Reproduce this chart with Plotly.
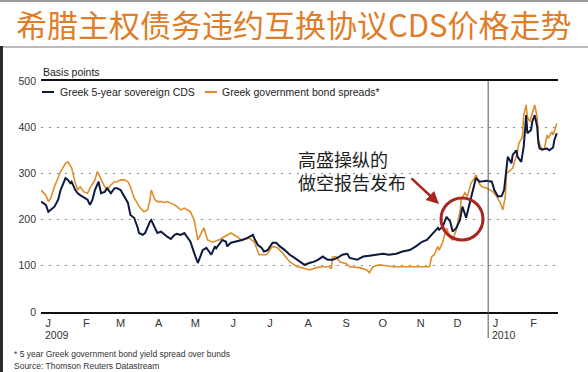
import plotly.graph_objects as go
import pandas as pd

# ---------------- data ----------------
cds_dates = [
    "2009-01-01", "2009-01-03", "2009-01-05", "2009-01-07", "2009-01-09", "2009-01-12", "2009-01-15",
    "2009-01-17", "2009-01-21", "2009-01-23", "2009-01-25", "2009-01-26", "2009-01-29", "2009-01-31",
    "2009-02-02", "2009-02-05", "2009-02-08", "2009-02-10", "2009-02-12", "2009-02-14", "2009-02-17",
    "2009-02-19", "2009-02-22", "2009-02-24", "2009-02-27", "2009-03-02", "2009-03-04", "2009-03-07",
    "2009-03-10", "2009-03-13", "2009-03-15", "2009-03-18", "2009-03-21", "2009-03-22", "2009-03-25",
    "2009-03-27", "2009-03-31", "2009-04-01", "2009-04-04", "2009-04-06", "2009-04-09", "2009-04-12",
    "2009-04-14", "2009-04-17", "2009-04-20", "2009-04-22", "2009-04-25", "2009-04-28", "2009-05-01",
    "2009-05-03", "2009-05-06", "2009-05-08", "2009-05-09", "2009-05-13", "2009-05-16", "2009-05-20",
    "2009-05-23", "2009-05-24", "2009-05-27", "2009-05-29", "2009-06-01", "2009-06-02", "2009-06-05",
    "2009-06-09", "2009-06-14", "2009-06-18", "2009-06-20", "2009-06-23", "2009-06-24", "2009-06-27",
    "2009-06-30", "2009-07-02", "2009-07-05", "2009-07-09", "2009-07-12", "2009-07-15", "2009-07-19",
    "2009-07-23", "2009-07-27", "2009-07-31", "2009-08-04", "2009-08-08", "2009-08-12", "2009-08-15",
    "2009-08-19", "2009-08-23", "2009-08-27", "2009-08-31", "2009-09-02", "2009-09-04", "2009-09-08",
    "2009-09-10", "2009-09-16", "2009-09-21", "2009-09-26", "2009-10-02", "2009-10-07", "2009-10-12",
    "2009-10-18", "2009-10-23", "2009-10-29", "2009-11-03", "2009-11-08", "2009-11-12", "2009-11-16",
    "2009-11-18", "2009-11-21", "2009-11-22", "2009-11-25", "2009-11-28", "2009-12-01", "2009-12-03",
    "2009-12-06", "2009-12-09", "2009-12-11", "2009-12-14", "2009-12-17", "2009-12-19", "2009-12-22",
    "2009-12-25", "2009-12-31", "2010-01-04", "2010-01-06", "2010-01-09", "2010-01-12", "2010-01-14",
    "2010-01-16", "2010-01-17", "2010-01-20", "2010-01-21", "2010-01-24", "2010-01-25", "2010-01-28",
    "2010-01-30", "2010-01-31", "2010-02-01", "2010-02-02", "2010-02-05", "2010-02-06", "2010-02-08",
    "2010-02-10", "2010-02-11", "2010-02-12", "2010-02-14", "2010-02-18", "2010-02-20", "2010-02-23",
    "2010-02-24", "2010-02-26",
]
cds_values = [
    239, 236, 232, 217, 221, 228, 243,
    264, 290, 286, 279, 282, 264, 257,
    253, 247, 243, 232, 243, 264, 282,
    257, 260, 268, 257, 268, 268, 264,
    250, 236, 210, 204, 182, 171, 167,
    171, 196, 199, 182, 171, 174, 167,
    163, 158, 167, 169, 167, 171, 160,
    152, 128, 112, 106, 134, 139, 124,
    142, 138, 150, 156, 152, 142, 150,
    152, 156, 160, 163, 167, 160, 145,
    139, 131, 134, 150, 150, 142, 134,
    124, 117, 109, 102, 106, 109, 113,
    120, 113, 113, 117, 120, 124, 126,
    117, 113, 120, 122, 124, 126, 124,
    126, 131, 134, 142, 152, 156, 167,
    174, 182, 178, 185, 206, 196, 174,
    182, 199, 228, 204, 236, 264, 290,
    282, 284, 282, 264, 250, 251, 264,
    307, 336, 322, 340, 350, 336, 325,
    358, 390, 426, 387, 394, 412, 426,
    401, 365, 354, 352, 354, 350, 356,
    372, 387,
]

bond_dates = [
    "2009-01-01", "2009-01-05", "2009-01-07", "2009-01-09", "2009-01-12", "2009-01-15", "2009-01-17",
    "2009-01-21", "2009-01-23", "2009-01-26", "2009-01-29", "2009-01-31", "2009-02-02", "2009-02-05",
    "2009-02-08", "2009-02-10", "2009-02-14", "2009-02-16", "2009-02-19", "2009-02-22", "2009-02-24",
    "2009-02-27", "2009-03-02", "2009-03-04", "2009-03-07", "2009-03-10", "2009-03-13", "2009-03-15",
    "2009-03-18", "2009-03-21", "2009-03-23", "2009-03-26", "2009-03-29", "2009-03-31", "2009-04-01",
    "2009-04-04", "2009-04-06", "2009-04-09", "2009-04-12", "2009-04-14", "2009-04-17", "2009-04-20",
    "2009-04-22", "2009-04-25", "2009-04-28", "2009-05-01", "2009-05-03", "2009-05-06", "2009-05-08",
    "2009-05-09", "2009-05-14", "2009-05-17", "2009-05-21", "2009-05-27", "2009-06-01", "2009-06-05",
    "2009-06-10", "2009-06-14", "2009-06-20", "2009-06-24", "2009-06-27", "2009-06-28", "2009-07-04",
    "2009-07-09", "2009-07-13", "2009-07-17", "2009-07-23", "2009-07-29", "2009-08-02", "2009-08-08",
    "2009-08-14", "2009-08-19", "2009-08-24", "2009-08-26", "2009-08-27", "2009-08-30", "2009-09-02",
    "2009-09-07", "2009-09-10", "2009-09-18", "2009-09-24", "2009-09-26", "2009-09-29", "2009-10-04",
    "2009-10-10", "2009-10-15", "2009-10-21", "2009-10-26", "2009-10-31", "2009-11-08", "2009-11-14",
    "2009-11-16", "2009-11-18", "2009-11-21", "2009-11-22", "2009-11-25", "2009-11-28", "2009-12-01",
    "2009-12-03", "2009-12-06", "2009-12-09", "2009-12-10", "2009-12-13", "2009-12-15", "2009-12-18",
    "2009-12-21", "2009-12-22", "2009-12-25", "2009-12-27", "2009-12-31", "2010-01-05", "2010-01-08",
    "2010-01-11", "2010-01-13", "2010-01-15", "2010-01-16", "2010-01-19", "2010-01-21", "2010-01-25",
    "2010-01-26", "2010-01-29", "2010-01-30", "2010-02-01", "2010-02-02", "2010-02-04", "2010-02-06",
    "2010-02-08", "2010-02-10", "2010-02-11", "2010-02-14", "2010-02-16", "2010-02-18", "2010-02-19",
    "2010-02-22", "2010-02-23", "2010-02-26",
]
bond_values = [
    264, 253, 239, 247, 271, 290, 304,
    322, 325, 312, 279, 264, 271, 260,
    257, 268, 286, 304, 286, 271, 264,
    275, 282, 282, 286, 286, 282, 271,
    247, 232, 225, 217, 221, 243, 264,
    243, 239, 239, 237, 239, 236, 232,
    228, 221, 225, 221, 217, 199, 163,
    156, 182, 156, 151, 157, 165, 171,
    163, 155, 160, 152, 131, 124, 124,
    142, 139, 128, 109, 98, 96, 91,
    96, 98, 98, 94, 119, 120, 108,
    105, 98, 96, 91, 85, 98, 102,
    100, 98, 98, 98, 98, 98, 98,
    120, 124, 142, 134, 152, 182, 160,
    156, 178, 217, 243, 258, 250, 279,
    290, 297, 277, 271, 268, 260, 250,
    236, 221, 250, 300, 307, 311, 347,
    365, 379, 426, 448, 422, 412, 430,
    448, 422, 372, 350, 354, 383, 376,
    390, 383, 408,
]

month_starts = ["2009-01-01", "2009-02-01", "2009-03-01", "2009-04-01", "2009-05-01", "2009-06-01",
                "2009-07-01", "2009-08-01", "2009-09-01", "2009-10-01", "2009-11-01", "2009-12-01",
                "2010-01-01", "2010-02-01"]
month_labels = ["J", "F", "M", "A", "M", "J", "J", "A", "S", "O", "N", "D", "J", "F"]
year_dates = ["2009-01-01", "2010-01-01"]
year_labels = ["2009", "2010"]
y_ticks = [0, 100, 200, 300, 400, 500]

series_names = ["Greek 5-year sovereign CDS", "Greek government bond spreads*"]
title_text = "希腊主权债务违约互换协议CDS价格走势"
note_text = "高盛操纵的<br>做空报告发布"
footnote = "* 5 year Greek government bond yield spread over bunds"
source = "Source: Thomson Reuters Datastream"

# ---------------- layout helpers ----------------
W, H = 588, 372
L, R, T, B = 41, 30, 81, 60
PW, PH = W - L - R, H - T - B


def px(x):
    return (x - L) / PW


def py(y):
    return (H - B - y) / PH


NAVY = "#0b1a3d"
ORANGE = "#e08d2e"
RED = "#a82520"
TXT = "#222222"
FONT = "Liberation Sans, Arial, sans-serif"

tickvals = list(pd.to_datetime(month_starts) + pd.Timedelta(days=6))

fig = go.Figure()
fig.add_trace(go.Scatter(x=bond_dates, y=bond_values, mode="lines", name=series_names[1],
                         line=dict(color=ORANGE, width=1.6), showlegend=False))
fig.add_trace(go.Scatter(x=cds_dates, y=cds_values, mode="lines", name=series_names[0],
                         line=dict(color=NAVY, width=2.0), showlegend=False))

fig.update_layout(
    width=W, height=H, autosize=False,
    margin=dict(l=L, r=R, t=T, b=B, pad=0),
    paper_bgcolor="white", plot_bgcolor="white",
    font=dict(family=FONT, size=11, color=TXT),
    xaxis=dict(type="date", range=["2009-01-01", "2010-02-27"],
               tickvals=tickvals, ticktext=month_labels, ticks="",
               showgrid=False, showline=True, mirror=True, linecolor="#111111", linewidth=1.6,
               zeroline=False, tickfont=dict(size=11, color="#333333")),
    yaxis=dict(range=[0, 500], tickvals=y_ticks, ticks="", showline=False, zeroline=False,
               showgrid=True, gridcolor="#8c8c8c", griddash="2px,6px", gridwidth=1,
               tickfont=dict(size=10.5, color="#333333"), ticklabelstandoff=4),
)

shapes = [
    # frame lines of the picture
    dict(type="line", xref="paper", yref="paper", x0=px(0), x1=px(W), y0=py(1), y1=py(1),
         line=dict(color="#9a9a9a", width=2)),
    dict(type="line", xref="paper", yref="paper", x0=px(0), x1=px(W), y0=py(47), y1=py(47),
         line=dict(color="#a5a5a5", width=1.5)),
    dict(type="line", xref="paper", yref="paper", x0=px(1.5), x1=px(1.5), y0=py(46), y1=py(H),
         line=dict(color="#2b2b2b", width=3)),
    # year divider
    dict(type="line", xref="x", yref="paper", x0="2010-01-01", x1="2010-01-01", y0=py(338), y1=1,
         line=dict(color="#555555", width=1)),
    # highlight circle
    dict(type="circle", xref="paper", yref="paper", x0=px(441), x1=px(483), y0=py(240), y1=py(198),
         line=dict(color=RED, width=3)),
    # legend samples
    dict(type="line", xref="paper", yref="paper", x0=px(42), x1=px(54), y0=py(92), y1=py(92),
         line=dict(color=NAVY, width=2)),
    dict(type="line", xref="paper", yref="paper", x0=px(205), x1=px(217), y0=py(92), y1=py(92),
         line=dict(color=ORANGE, width=2)),
]
fig.update_layout(shapes=shapes)

ann = [
    dict(text=title_text, xref="paper", yref="paper", x=px(294), y=py(23), xanchor="center",
         yanchor="middle", showarrow=False,
         font=dict(family="Noto Sans CJK SC", size=31, color="#e07d28")),
    dict(text="Basis points", xref="paper", yref="paper", x=px(41), y=py(72), xanchor="left",
         yanchor="middle", showarrow=False, font=dict(size=10.5, color=TXT)),
    dict(text=series_names[0], xref="paper", yref="paper", x=px(58), y=py(92), xanchor="left",
         yanchor="middle", showarrow=False, font=dict(size=10.5, color=TXT)),
    dict(text=series_names[1], xref="paper", yref="paper", x=px(220), y=py(92), xanchor="left",
         yanchor="middle", showarrow=False, font=dict(size=10.5, color=TXT)),
    dict(text=note_text, xref="paper", yref="paper", x=px(296), y=py(170), xanchor="left",
         yanchor="middle", align="left", showarrow=False,
         font=dict(family="Noto Sans CJK SC", size=18, color="#1e1e1e")),
    dict(text="", xref="paper", yref="paper", x=px(439), y=py(204), ax=-29, ay=-27,
         showarrow=True, arrowhead=2, arrowsize=1, arrowwidth=2.5, arrowcolor=RED),
    dict(text=footnote, xref="paper", yref="paper", x=px(12), y=py(354), xanchor="left",
         yanchor="middle", showarrow=False, font=dict(size=8.5, color="#333333")),
    dict(text=source, xref="paper", yref="paper", x=px(12), y=py(366), xanchor="left",
         yanchor="middle", showarrow=False, font=dict(size=8.5, color="#333333")),
]
for d, lab in zip(year_dates, year_labels):
    ann.append(dict(text=lab, xref="x", yref="paper", x=d, y=py(335), xanchor="left",
                    yanchor="middle", xshift=2, showarrow=False,
                    font=dict(size=10.5, color="#333333")))
fig.update_layout(annotations=ann)

fig.write_html("out.html", config={"displayModeBar": False},
               post_script="document.body.style.margin='0';document.body.style.overflow='hidden';")
